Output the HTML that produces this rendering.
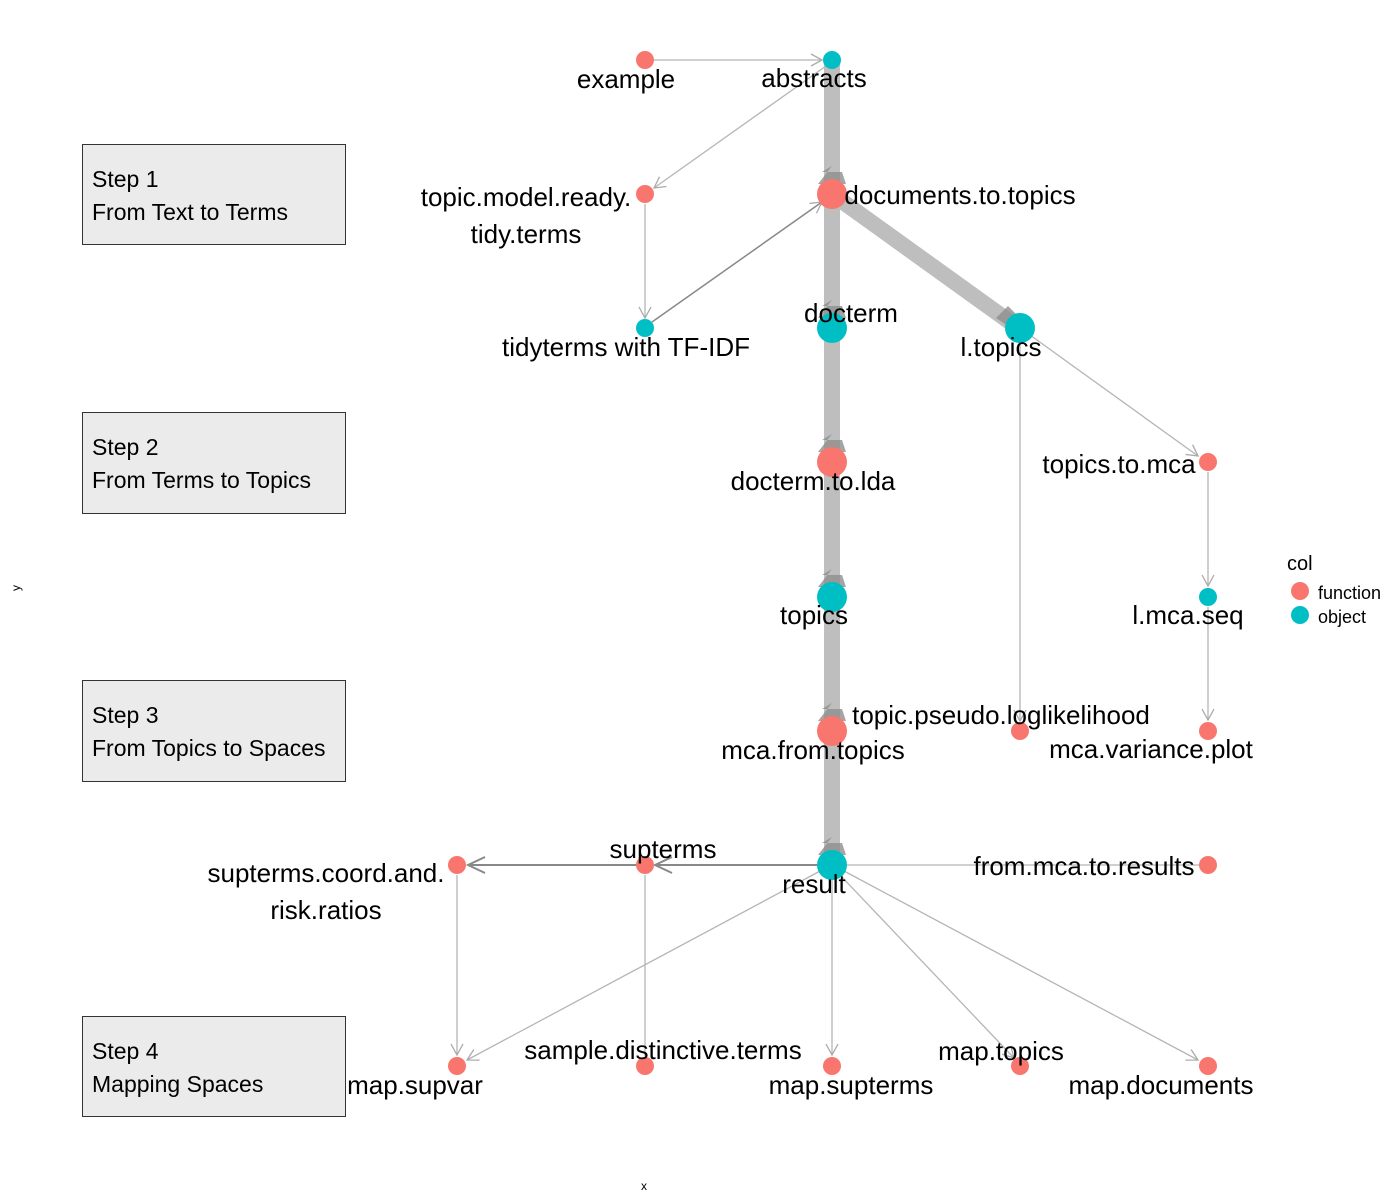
<!DOCTYPE html>
<html><head><style>body{margin:0;background:#fff}svg{display:block}</style></head><body>
<svg width="1400" height="1200" xmlns="http://www.w3.org/2000/svg" font-family="Liberation Sans, sans-serif">
<defs>
<marker id="a" markerWidth="14" markerHeight="14" refX="12" refY="7" orient="auto" markerUnits="userSpaceOnUse"><path d="M1,1 L12,7 L1,13" fill="none" stroke="#aaa" stroke-width="1.3"/></marker>
<marker id="ad" markerWidth="20" markerHeight="20" refX="18" refY="10" orient="auto" markerUnits="userSpaceOnUse"><path d="M1,2 L18,10 L1,18" fill="none" stroke="#888" stroke-width="2"/></marker>
</defs>
<g fill="#ebebeb" stroke="#333" stroke-width="1">
<rect x="82.5" y="144.5" width="263" height="100"/>
<rect x="82.5" y="412.5" width="263" height="101"/>
<rect x="82.5" y="680.5" width="263" height="101"/>
<rect x="82.5" y="1016.5" width="263" height="100"/>
</g>
<g font-size="23" fill="#000">
<text x="92" y="187">Step 1</text><text x="92" y="220">From Text to Terms</text>
<text x="92" y="455">Step 2</text><text x="92" y="488">From Terms to Topics</text>
<text x="92" y="723">Step 3</text><text x="92" y="756">From Topics to Spaces</text>
<text x="92" y="1059">Step 4</text><text x="92" y="1092">Mapping Spaces</text>
</g>
<g stroke="#bebebe" stroke-width="16" fill="none">
<line x1="832" y1="60" x2="832" y2="865"/>
<line x1="832" y1="194" x2="1010" y2="322"/>
</g>
<g fill="#8f8f8f">
<polygon points="822,172 842,172 846,184 818,184 832,166" opacity="0.8"/>
<polygon points="822,306 842,306 846,318 818,318 832,300" opacity="0.8"/>
<polygon points="822,440 842,440 846,452 818,452 832,434" opacity="0.8"/>
<polygon points="822,575 842,575 846,587 818,587 832,569" opacity="0.8"/>
<polygon points="822,709 842,709 846,721 818,721 832,703" opacity="0.8"/>
<polygon points="822,843 842,843 846,855 818,855 832,837" opacity="0.8"/>
<polygon points="996,318 1008,306 1016,314 1014,330" opacity="0.8"/>
</g>
<g stroke="#b5b5b5" stroke-width="1.3" fill="none">
<line x1="645" y1="60" x2="822" y2="60" marker-end="url(#a)"/>
<line x1="826" y1="66" x2="654" y2="188" marker-end="url(#a)"/>
<line x1="645" y1="204" x2="645" y2="318" marker-end="url(#a)"/>
<line x1="1030" y1="335" x2="1198" y2="456" marker-end="url(#a)"/>
<line x1="1020" y1="338" x2="1020" y2="721" marker-end="url(#a)"/>
<line x1="1208" y1="472" x2="1208" y2="586" marker-end="url(#a)"/>
<line x1="1208" y1="607" x2="1208" y2="720" marker-end="url(#a)"/>
<line x1="645" y1="875" x2="645" y2="1056"/>
<line x1="457" y1="875" x2="457" y2="1055" marker-end="url(#a)"/>
<line x1="822" y1="870" x2="467" y2="1060" marker-end="url(#a)"/>
<line x1="832" y1="880" x2="832" y2="1055" marker-end="url(#a)"/>
<line x1="840" y1="875" x2="1014" y2="1058" marker-end="url(#a)"/>
<line x1="844" y1="871" x2="1198" y2="1060" marker-end="url(#a)"/>
<line x1="1208" y1="865" x2="846" y2="865"/>
</g>
<g stroke="#888" stroke-width="1.5" fill="none">
<line x1="652" y1="322" x2="822" y2="202" marker-end="url(#a)"/>
<line x1="820" y1="865" x2="655" y2="865" stroke-width="2" marker-end="url(#ad)"/>
<line x1="645" y1="865" x2="468" y2="865" stroke-width="2" marker-end="url(#ad)"/>
</g>
<g fill="#f8766d">
<circle cx="645" cy="60" r="9"/><circle cx="645" cy="194" r="9"/><circle cx="832" cy="194" r="15"/>
<circle cx="832" cy="462" r="15"/><circle cx="1208" cy="462" r="9"/>
<circle cx="832" cy="731" r="15"/><circle cx="1020" cy="731" r="9"/><circle cx="1208" cy="731" r="9"/>
<circle cx="645" cy="865" r="9"/><circle cx="457" cy="865" r="9"/><circle cx="1208" cy="865" r="9"/>
<circle cx="457" cy="1066" r="9"/><circle cx="645" cy="1066" r="9"/><circle cx="832" cy="1066" r="9"/><circle cx="1020" cy="1066" r="9"/><circle cx="1208" cy="1066" r="9"/>
</g>
<g fill="#00bfc4">
<circle cx="832" cy="60" r="9"/><circle cx="645" cy="328" r="9"/><circle cx="832" cy="328" r="15"/><circle cx="1020" cy="328" r="15"/>
<circle cx="832" cy="597" r="15"/><circle cx="1208" cy="597" r="9"/><circle cx="832" cy="865" r="15"/>
</g>
<g font-size="26" fill="#000" text-anchor="middle">
<text x="626" y="88">example</text>
<text x="814" y="87">abstracts</text>
<text x="526" y="206">topic.model.ready.</text>
<text x="526" y="243">tidy.terms</text>
<text x="960" y="204">documents.to.topics</text>
<text x="626" y="356">tidyterms with TF-IDF</text>
<text x="851" y="322">docterm</text>
<text x="1001" y="356">l.topics</text>
<text x="1119" y="473">topics.to.mca</text>
<text x="813" y="490">docterm.to.lda</text>
<text x="814" y="624">topics</text>
<text x="1188" y="624">l.mca.seq</text>
<text x="1001" y="724">topic.pseudo.loglikelihood</text>
<text x="813" y="759">mca.from.topics</text>
<text x="1151" y="758">mca.variance.plot</text>
<text x="663" y="858">supterms</text>
<text x="326" y="882">supterms.coord.and.</text>
<text x="326" y="919">risk.ratios</text>
<text x="814" y="893">result</text>
<text x="1084" y="875">from.mca.to.results</text>
<text x="415" y="1094">map.supvar</text>
<text x="663" y="1059">sample.distinctive.terms</text>
<text x="851" y="1094">map.supterms</text>
<text x="1001" y="1060">map.topics</text>
<text x="1161" y="1094">map.documents</text>
</g>
<text x="1287" y="570" font-size="20">col</text>
<circle cx="1300" cy="591" r="9" fill="#f8766d"/><text x="1318" y="599" font-size="18">function</text>
<circle cx="1300" cy="615" r="9" fill="#00bfc4"/><text x="1318" y="623" font-size="18">object</text>
<text x="644" y="1190" font-size="12" text-anchor="middle">x</text>
<text x="20" y="588" font-size="12" transform="rotate(-90 20 588)" text-anchor="middle">y</text>
</svg>
</body></html>
